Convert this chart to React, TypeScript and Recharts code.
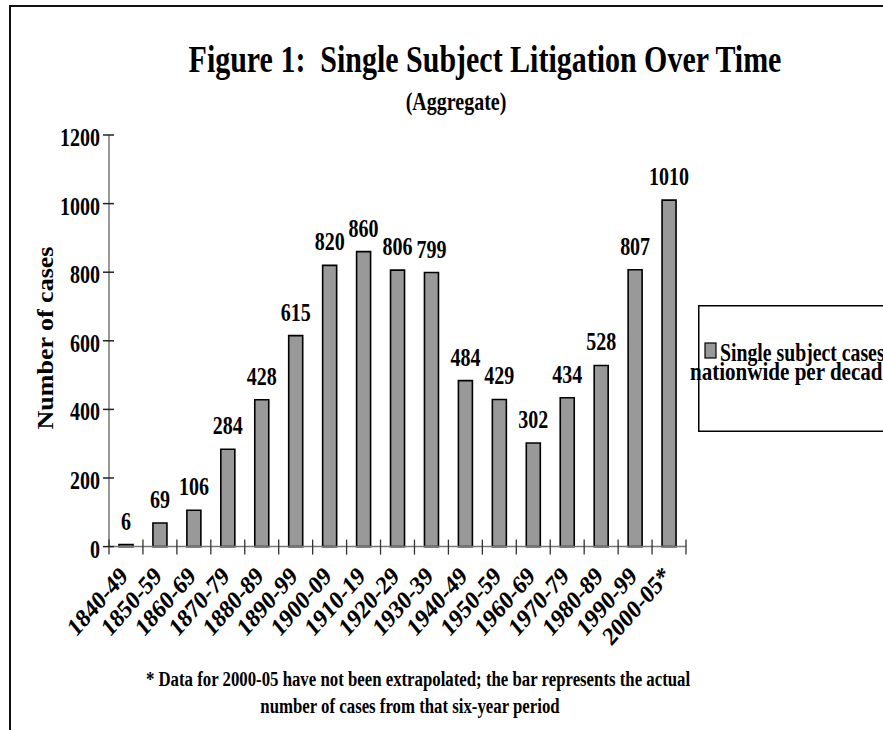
import React from 'react';
import { BarChart, Bar, XAxis, YAxis, LabelList, Legend } from 'recharts';

const categories = ['1840-49', '1850-59', '1860-69', '1870-79', '1880-89', '1890-99', '1900-09', '1910-19', '1920-29', '1930-39', '1940-49', '1950-59', '1960-69', '1970-79', '1980-89', '1990-99', '2000-05*'];
const cases = [6, 69, 106, 284, 428, 615, 820, 860, 806, 799, 484, 429, 302, 434, 528, 807, 1010];
const yTicks = [0, 200, 400, 600, 800, 1000, 1200];
const titleText = 'Figure 1:\u00A0\u00A0Single Subject Litigation Over Time';
const subtitleText = '(Aggregate)';
const yAxisLabel = 'Number of cases';
const legendLines = ['Single subject cases', 'nationwide per decade'];
const footnoteLines = [
  '* Data for 2000-05 have not been extrapolated; the bar represents the actual',
  'number of cases from that six-year period',
];

const data = categories.map((c, i) => ({ category: c, value: cases[i] }));

const W = 883;
const H = 730;
const PLOT_LEFT = 109;
const PLOT_RIGHT = 686;
const PLOT_TOP = 135;
const PLOT_BOTTOM = 546.6;
const BAND = (PLOT_RIGHT - PLOT_LEFT) / categories.length;
const FONT = '"Liberation Serif", "Times New Roman", serif';
const SX = 0.8;

type TProps = {
  x: number;
  y: number;
  size: number;
  anchor?: 'start' | 'middle' | 'end';
  rotate?: number;
  sx?: number;
  children: React.ReactNode;
};

const T = ({ x, y, size, anchor = 'start', rotate = 0, sx = SX, children }: TProps) => (
  <text
    transform={`translate(${x},${y}) scale(${sx},1) rotate(${rotate})`}
    x={0}
    y={0}
    fontFamily={FONT}
    fontWeight="bold"
    fontSize={size}
    textAnchor={anchor}
    fill="#000"
  >
    {children}
  </text>
);

const YTick = (props: any) => {
  const { x, y, payload } = props;
  return (
    <g>
      <line x1={x - 6} x2={x + 5} y1={y} y2={y} stroke="#222" strokeWidth={1.5} />
      <T x={x - 9} y={y + 11} size={25} anchor="end">{payload.value}</T>
    </g>
  );
};

const XTick = (props: any) => {
  const { x, y, payload, index } = props;
  const last = index === categories.length - 1;
  return (
    <g>
      <line x1={x - BAND / 2} x2={x - BAND / 2} y1={y - 7} y2={y + 8} stroke="#333" strokeWidth={1.3} />
      {last && <line x1={x + BAND / 2} x2={x + BAND / 2} y1={y - 7} y2={y + 8} stroke="#333" strokeWidth={1.3} />}
      <T x={x + 3} y={y + 31} size={26} anchor="end" rotate={-44} sx={0.85}>{payload.value}</T>
    </g>
  );
};

const ValueLabel = (props: any) => {
  const { x, y, width, value } = props;
  return <T x={Number(x) + Number(width) / 2} y={Number(y) - 15} size={25} anchor="middle">{value}</T>;
};

const LegendBox = () => (
  <svg width={200} height={127} style={{ overflow: 'visible', display: 'block' }}>
    <rect x={0.75} y={0.75} width={260} height={125.5} fill="#fff" stroke="#000" strokeWidth={1.5} />
    <rect x={7} y={38} width={11} height={15} fill="#999" stroke="#000" strokeWidth={1.2} />
    <T x={22} y={56} size={26} sx={0.76}>{legendLines[0]}</T>
    <T x={-8} y={75} size={26} sx={0.81}>{legendLines[1]}</T>
  </svg>
);

export default function App() {
  return (
    <div style={{ position: 'absolute', left: 0, top: 0, width: W, height: H, background: '#fff', overflow: 'hidden' }}>
      <BarChart
        width={W}
        height={H}
        data={data}
        margin={{ top: PLOT_TOP, right: W - PLOT_RIGHT, bottom: H - PLOT_BOTTOM - 60, left: 9 }}
        barSize={14}
      >
        <XAxis
          dataKey="category"
          height={60}
          interval={0}
          tickLine={false}
          tickSize={0}
          tickMargin={0}
          axisLine={{ stroke: '#777', strokeWidth: 1.5 }}
          tick={<XTick />}
        />
        <YAxis
          type="number"
          domain={[0, 1200]}
          ticks={yTicks}
          interval={0}
          width={100}
          tickLine={false}
          tickSize={0}
          tickMargin={0}
          axisLine={{ stroke: '#777', strokeWidth: 1.5 }}
          tick={<YTick />}
        />
        <Legend
          layout="horizontal"
          align="center"
          verticalAlign="middle"
          wrapperStyle={{ left: 698, top: 305, width: 200, height: 127 }}
          content={() => <LegendBox />}
        />
        <Bar dataKey="value" fill="#999999" stroke="#000" strokeWidth={1.6} isAnimationActive={false}>
          <LabelList dataKey="value" content={<ValueLabel />} />
        </Bar>
      </BarChart>
      <svg width={W} height={H} style={{ position: 'absolute', left: 0, top: 0, pointerEvents: 'none' }}>
        <line x1={10} x2={W} y1={6} y2={6} stroke="#111" strokeWidth={2} />
        <line x1={10} x2={10} y1={5} y2={H} stroke="#111" strokeWidth={2} />
        <T x={485} y={72} size={37} anchor="middle" sx={0.81}>{titleText}</T>
        <T x={456} y={110} size={25} anchor="middle">{subtitleText}</T>
        <T x={53} y={338} size={26} anchor="middle" rotate={-90} sx={0.9}>{yAxisLabel}</T>
        <T x={418} y={686} size={21} anchor="middle">{footnoteLines[0]}</T>
        <T x={410} y={713} size={21} anchor="middle">{footnoteLines[1]}</T>
      </svg>
    </div>
  );
}
